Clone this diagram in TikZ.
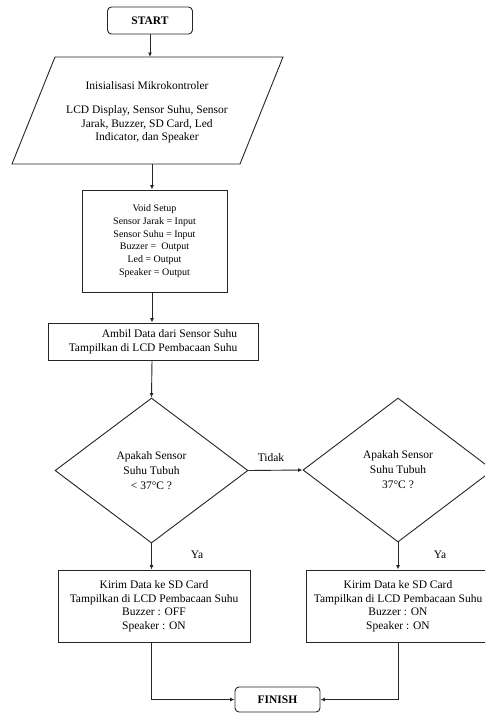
\documentclass[tikz,border=0pt]{standalone}
\usepackage{fontspec}
\setmainfont{Liberation Serif}
\usetikzlibrary{arrows.meta,shapes.geometric}
\begin{document}
\begin{tikzpicture}[x=1pt,y=-1pt,
  line/.style={draw=black!85, line width=0.9pt},
  arr/.style={line, -{Latex[length=4.5pt,width=4pt]}},
  txt/.style={font=\fontsize{11.5}{13.5}\selectfont, align=center, inner sep=0pt},
  term/.style={line, rounded corners=4pt, inner sep=0pt, font=\fontsize{11.5}{13.5}\selectfont\bfseries},
  procbox/.style={line, rectangle, inner sep=0pt, align=center, font=\fontsize{11.5}{13.5}\selectfont},
  decision/.style={line, diamond, inner sep=0pt, align=center, font=\fontsize{11.5}{15}\selectfont},
  lbl/.style={font=\fontsize{11.5}{13.5}\selectfont, inner sep=0pt}
  ]
\useasboundingbox (0,0) rectangle (485,713);
\fill[white] (0,0) rectangle (485,713);
\clip (0,0) rectangle (485,713);

% START
\node[term, minimum width=85pt, minimum height=27pt] (start) at (150,20.5) {START};

% Parallelogram (input)
\coordinate (pTL) at (55,57);
\coordinate (pTR) at (283,57);
\coordinate (pBR) at (240,164);
\coordinate (pBL) at (12,164);
\draw[line] (pTL) -- (pTR) -- (pBR) -- (pBL) -- cycle;
\coordinate (pTop) at (150,57);
\coordinate (pBot) at (152,164);
\node[txt] (init) at (147,112) {Inisialisasi Mikrokontroler\\[11pt]LCD Display, Sensor Suhu, Sensor\\Jarak, Buzzer, SD Card, Led\\Indicator, dan Speaker};

% Void setup
\node[procbox, minimum width=145pt, minimum height=102pt, font=\fontsize{10}{12.8}\selectfont] (setup) at (154.5,241) {Void Setup\\Sensor Jarak = Input\\Sensor Suhu = Input\\Buzzer =\ \ Output\\Led = Output\\Speaker = Output};

% Ambil data
\node[procbox, align=right, minimum width=210pt, minimum height=37pt] (ambil) at (153,341.5) {Ambil Data dari Sensor Suhu\\Tampilkan di LCD Pembacaan Suhu};

% Decisions
\node[decision, minimum width=193pt, minimum height=145pt] (d1) at (151.5,470.5) {Apakah Sensor\\Suhu Tubuh\\< 37°C ?};
\node[decision, minimum width=190pt, minimum height=144pt] (d2) at (398,470) {Apakah Sensor\\Suhu Tubuh\\37°C ?};

% Output boxes
\node[procbox, minimum width=192pt, minimum height=72pt] (out1) at (154,606) {Kirim Data ke SD Card\\Tampilkan di LCD Pembacaan Suhu\\Buzzer : OFF\\Speaker : ON};
\node[procbox, minimum width=184pt, minimum height=72pt] (out2) at (398,606) {Kirim Data ke SD Card\\Tampilkan di LCD Pembacaan Suhu\\Buzzer : ON\\Speaker : ON};

% FINISH
\node[term, minimum width=85pt, minimum height=25pt] (finish) at (277.5,699.5) {FINISH};

% Connectors
\draw[arr] (start.south) -- (pTop);
\draw[arr] (pBot) -- (pBot |- setup.north);
\draw[arr] (pBot |- setup.south) -- (pBot |- ambil.north);
\draw[arr] (pBot |- ambil.south) -- (d1.north);
\draw[arr] (d1.east) -- (d2.west);
\node[lbl] (tidak) at (271,458) {Tidak};
\draw[arr] (d1.south) -- (d1.south |- out1.north);
\node[lbl] (ya1) at (197,555) {Ya};
\draw[arr] (d2.south) -- (d2.south |- out2.north);
\node[lbl] (ya2) at (440,555) {Ya};
\draw[arr] (d1.south |- out1.south) |- (finish.west);
\draw[arr] (d2.south |- out2.south) |- (finish.east);
\end{tikzpicture}
\end{document}
